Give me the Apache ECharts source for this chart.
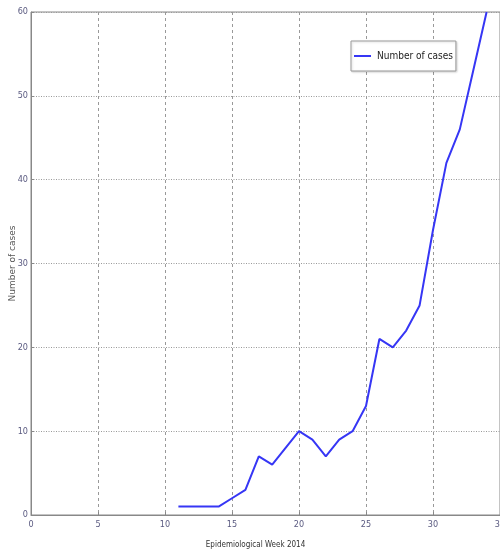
<!DOCTYPE html>
<html>
<head>
<meta charset="utf-8">
<script src="https://cdn.jsdelivr.net/npm/echarts@6/dist/echarts.min.js"></script>
<style>
  html, body { margin: 0; padding: 0; background: #fff; }
  #chart { width: 500px; height: 553px; }
</style>
</head>
<body>
<div id="chart"></div>
<script>
// Weekly case counts, epidemiological weeks 11–34 of 2014
const weeks = [11, 12, 13, 14, 15, 16, 17, 18, 19, 20, 21, 22, 23, 24, 25, 26, 27, 28, 29, 30, 31, 32, 33, 34];
const cases = [1, 1, 1, 1, 2, 3, 7, 6, 8, 10, 9, 7, 9, 10, 13, 21, 20, 22, 25, 34, 42, 46, 53, 60];
const xTicks = [0, 5, 10, 15, 20, 25, 30, 35];
const yTicks = [0, 10, 20, 30, 40, 50, 60];

const seriesData = weeks.map((w, i) => [w, cases[i]]);
const labelFont = 'DejaVu Sans Condensed, Liberation Sans Narrow, Liberation Sans, sans-serif';
const labelColor = '#5a5a80';

const chart = echarts.init(document.getElementById('chart'));
chart.setOption({
  animation: false,
  grid: {
    left: 31, right: 0, top: 12, bottom: 38,
    outerBoundsMode: 'none',
    containLabel: false,
    show: true, borderColor: '#888', borderWidth: 1
  },
  legend: {
    data: ['Number of cases'],
    left: 351, top: 41,
    itemWidth: 17, itemHeight: 2, itemGap: 2,
    padding: [10, 3, 10, 3],
    borderColor: '#999', borderWidth: 1,
    backgroundColor: '#fff',
    shadowColor: 'rgba(0,0,0,0.15)', shadowBlur: 2, shadowOffsetX: 1, shadowOffsetY: 1,
    icon: 'rect',
    textStyle: { fontFamily: labelFont, fontSize: 10, color: '#222', padding: [0, 0, 0, 1] }
  },
  xAxis: {
    type: 'value',
    min: 0, max: 35, interval: 5,
    name: 'Epidemiological Week 2014',
    nameLocation: 'middle', nameGap: 26,
    nameMoveOverlap: false,
    nameTextStyle: { fontFamily: labelFont, fontSize: 8, color: '#333', padding: [0, 20, 0, 0] },
    axisLine: { lineStyle: { color: '#888' } },
    axisTick: { inside: true, length: 3, lineStyle: { color: '#888' } },
    axisLabel: {
      fontFamily: labelFont, fontSize: 9, color: labelColor, margin: 5,
      showMaxLabel: true,
      formatter: v => xTicks.includes(v) ? String(v) : ''
    },
    splitLine: { show: true, lineStyle: { color: '#999', type: [3, 3], width: 1 } }
  },
  yAxis: {
    type: 'value',
    min: 0, max: 60, interval: 10,
    name: 'Number of cases',
    nameLocation: 'middle', nameGap: 14, nameRotate: 90,
    nameMoveOverlap: false,
    nameTextStyle: { fontFamily: 'DejaVu Sans, sans-serif', fontSize: 9, color: '#555' },
    axisLine: { show: true, lineStyle: { color: '#888' } },
    axisTick: { inside: true, length: 3, lineStyle: { color: '#888' } },
    axisLabel: {
      fontFamily: labelFont, fontSize: 9, color: labelColor, margin: 3,
      formatter: v => yTicks.includes(v) ? String(v) : ''
    },
    splitLine: { show: true, lineStyle: { color: '#999', type: [1, 1.5], width: 1 } }
  },
  series: [{
    name: 'Number of cases',
    type: 'line',
    data: seriesData,
    showSymbol: false,
    symbol: 'none',
    lineStyle: { color: '#3636f5', width: 2 },
    itemStyle: { color: '#3636f5' }
  }]
});
</script>
</body>
</html>
